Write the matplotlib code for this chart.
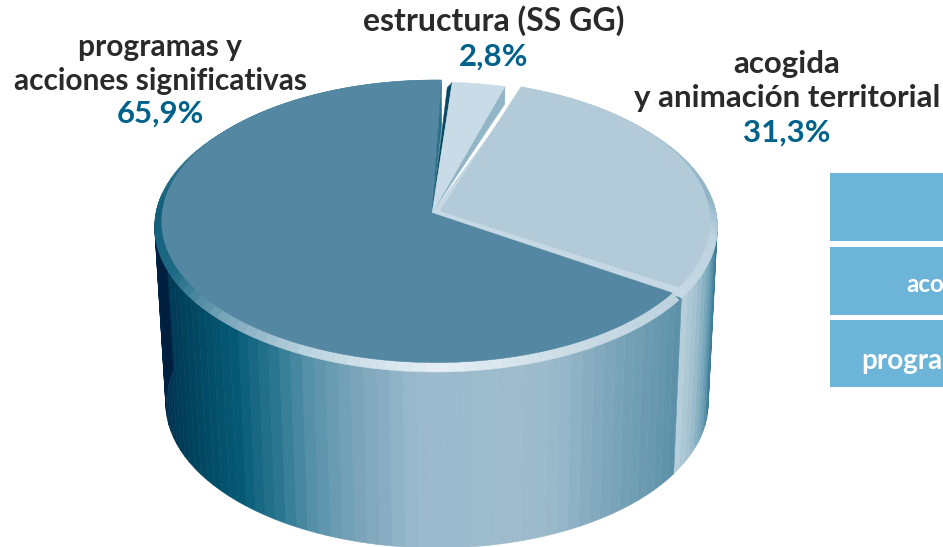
import numpy as np
from matplotlib import pyplot as plt
from matplotlib.colors import LinearSegmentedColormap

# slices, clockwise. big one starts at lower right
labels = ["programas y\nacciones significativas", "estructura (SS GG)", "acogida\ny animación territorial"]
values = [65.9, 2.8, 31.3]
value_text = ["65,9%", "2,8%", "31,3%"]
side_labels = ["", "aco", "progra"]

start_angle = 124
pull_start = [0, 2.4, 8.5]  # slices are pulled apart a bit
pull_end = [0, 4.3, 0]
flat_colors = ["#5488a2", "#c8dbe6", "#b3cbd9"]

# wall shade, angle -> colour
big_wall_t = [124, 134, 146, 156, 164, 183, 194, 204, 212, 222, 241, 258, 270, 280]
big_wall_c = ["#5a90a8", "#6a9ab0", "#7fa7bb", "#98b8ca", "#9dbbcc", "#9bbacd", "#7ea6bc", "#5a93aa",
              "#2a7690", "#055a75", "#003f5a", "#002f4e", "#001f3f", "#001f3f"]
light_wall_t = [85, 102, 109, 117, 124]
light_wall_c = ["#2f7690", "#3f7d96", "#6ea2b7", "#a2c0cf", "#b8d0dc"]

# bevel shade on the rim
big_rim_t = [124, 150, 180, 205, 225, 245, 270, 300, 361]
big_rim_c = ["#bcd2de", "#c8dae4", "#e6eff4", "#bcd4e0", "#7aa6ba", "#1c6a85", "#115e79", "#3f7d97", "#5488a2"]
light_rim_t = [19, 60, 85, 100, 124]
light_rim_c = ["#b3cbd9", "#9fbfd0", "#8fb3c6", "#bdd3df", "#c5d8e3"]

box_top = [173, 247, 320]
box_bottom = [241, 315, 387]


def make_cmap(t, c):
    t = np.array(t, dtype=float)
    pos = (t - t[0]) / (t[-1] - t[0])
    return LinearSegmentedColormap.from_list("x", list(zip(pos, c))), t[0], t[-1]


def project(t, r=1.0, level=0.0):
    # unit circle to picture, with a little perspective. level 0 top face, 1 bottom
    k = 0.0966
    rad = np.radians(t)
    u = r * np.sin(rad)
    v = -r * np.cos(rad)
    w = 1 - k * v
    x0 = 436 + 1 * level
    a = 280 - 10 * level
    y0 = 213 + 176 * level
    b = 143.6
    return x0 + a * u / w - 4 * (1 - r), y0 + b * v / w


def strips(t0, t1):
    n = int(np.ceil((t1 - t0) / 2.5))
    return np.linspace(t0, t1, n + 1)


def wall(ax, t0, t1, tt, cc):
    cmap, lo, hi = make_cmap(tt, cc)
    edges = strips(t0, t1)
    for a0, a1 in zip(edges[:-1], edges[1:]):
        tl = np.linspace(a0, a1, 4)
        xt, yt = project(tl)
        xb, yb = project(tl, level=1.0)
        col = cmap((0.5 * (a0 + a1) - lo) / (hi - lo))
        ax.fill(np.r_[xt, xb[::-1]], np.r_[yt, yb[::-1]], color=col, lw=0.4, zorder=2)


def rim(ax, t0, t1, tt, cc, lift=5, inner=0.975):
    cmap, lo, hi = make_cmap(tt, cc)
    edges = strips(t0, t1)
    for a0, a1 in zip(edges[:-1], edges[1:]):
        tl = np.linspace(a0, a1, 4)
        xo, yo = project(tl)
        xi, yi = project(tl, r=inner)
        col = cmap((0.5 * (a0 + a1) - lo) / (hi - lo))
        ax.fill(np.r_[xo, xi[::-1]], np.r_[yo, yi[::-1] - lift], color=col, lw=0.4, zorder=4)


def flat(ax, t0, t1, color, inner=0.975, lift=5, zorder=5, apex=(0, 0)):
    tl = np.linspace(t0, t1, 150)
    x, y = project(tl, r=inner)
    ax0, ay0 = project(0, r=0)
    ax.fill(np.r_[ax0 + apex[0], x], np.r_[ay0 + apex[1], y - lift], color=color, lw=0.3, zorder=zorder)


def cut_face(ax, t, color, level=0.1, dx=0, zorder=6):
    xa, ya = project(0, r=0)
    x1, y1 = project(t)
    x2, y2 = project(t, level=level)
    ax.fill([xa, x1, x2 + dx], [ya, y1, y2], color=color, lw=0.3, zorder=zorder)


def main():
    fig = plt.figure(figsize=(9.43, 5.47), dpi=100)
    ax = fig.add_axes([0, 0, 1, 1])
    ax.set_xlim(0, 943)
    ax.set_ylim(547, 0)
    ax.axis("off")

    # angles from the values
    sizes = np.array(values) / np.sum(values) * 360
    t_start = start_angle + np.r_[0, np.cumsum(sizes)[:-1]]
    t_end = t_start + sizes
    t_start = t_start + np.array(pull_start)
    t_end = t_end + np.array(pull_end)
    t_big0, t_big1 = t_start[0], t_end[0]
    t_small0, t_small1 = t_start[1] - 360, t_end[1] - 360
    t_light0, t_light1 = t_start[2] - 360, t_end[2] - 360

    # walls
    wall(ax, 85, t_light1, light_wall_t, light_wall_c)
    wall(ax, t_big0, 278, big_wall_t, big_wall_c)

    # top of the slices
    flat(ax, t_light0, t_light1, "#c5d8e3", inner=1.0, lift=0, zorder=3)
    rim(ax, t_light0, t_light1, light_rim_t, light_rim_c)
    flat(ax, t_light0, t_light1 - 1.5, flat_colors[2], apex=(8, -2), zorder=5)

    tb = np.linspace(t_big0, t_big1, 200)
    xb, yb = project(tb)
    xa, ya = project(0, r=0)
    ax.fill(np.r_[xa, xb], np.r_[ya, yb], color=flat_colors[0], lw=0, zorder=3)
    rim(ax, t_big0 + 1, t_big1, big_rim_t, big_rim_c)
    flat(ax, t_big0 + 1, t_big1, flat_colors[0])

    # small slice and the faces seen in the gaps
    cut_face(ax, t_big1 - 360, "#2f7089", level=0.25)
    cut_face(ax, t_small0, "#0b4a66", level=0.03, dx=-5)
    cut_face(ax, t_small1, "#92b6c8", level=0.1)
    flat(ax, t_small0, t_small1, flat_colors[1], inner=1.0, lift=0, zorder=7)

    # boxes at right, cut by the page
    for top, bottom in zip(box_top, box_bottom):
        ax.bar(830, bottom - top, width=200, bottom=top, align="edge", color="#6db5d8", zorder=1)
    ax.text(906, 284, side_labels[1], color="white", fontsize=17.5, fontweight="bold", family="Lato", va="center")
    ax.text(861, 361, side_labels[2], color="white", fontsize=20, fontweight="bold", family="Lato", va="center")

    # labels
    ink = "#2a2a2a"
    teal = "#00628b"
    ax.text(160, 64, labels[0], color=ink, fontsize=21.5, fontweight="bold", family="Lato",
            ha="center", va="center", linespacing=1.25, zorder=9)
    ax.text(160, 114, value_text[0], color=teal, fontsize=22.5, fontweight="bold", family="Lato",
            ha="center", va="center", zorder=9)
    ax.text(494, 21, labels[1], color=ink, fontsize=23, fontweight="bold", family="Lato",
            ha="center", va="center", zorder=9)
    ax.text(494, 57, value_text[1], color=teal, fontsize=22.5, fontweight="bold", family="Lato",
            ha="center", va="center", zorder=9)
    ax.text(787, 81, labels[2], color=ink, fontsize=22.5, fontweight="bold", family="Lato",
            ha="center", va="center", linespacing=1.25, zorder=9)
    ax.text(787, 133, value_text[2], color=teal, fontsize=22.5, fontweight="bold", family="Lato",
            ha="center", va="center", zorder=9)

    plt.savefig("out.png", dpi=100)


if __name__ == '__main__':
    main()
